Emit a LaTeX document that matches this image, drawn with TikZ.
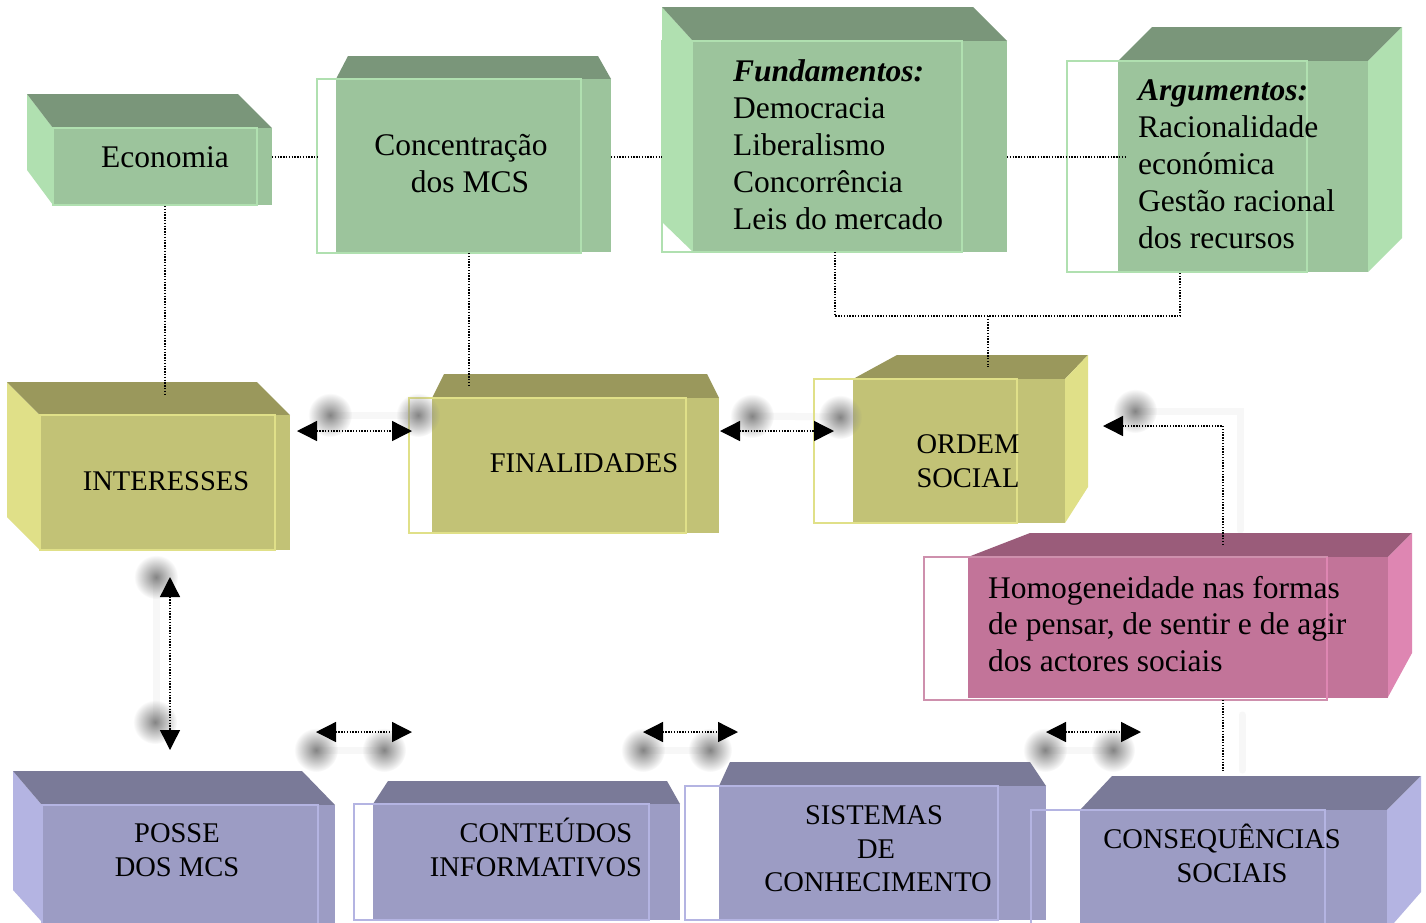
\documentclass[tikz,border=0pt]{standalone}
\usepackage{fontspec}
\setmainfont{Liberation Serif}
\usetikzlibrary{arrows.meta,fadings}
\definecolor{gF}{HTML}{9CC49C}
\definecolor{gT}{HTML}{7A967A}
\definecolor{gS}{HTML}{B0E0B0}
\definecolor{oF}{HTML}{C2C276}
\definecolor{oT}{HTML}{9A985C}
\definecolor{oS}{HTML}{E0E088}
\definecolor{pF}{HTML}{C27499}
\definecolor{pT}{HTML}{9A5C7A}
\definecolor{pS}{HTML}{DE86B2}
\definecolor{vF}{HTML}{9C9CC4}
\definecolor{vT}{HTML}{7A7A98}
\definecolor{vS}{HTML}{B4B4E2}
\tikzfading[name=dotfade, inner color=transparent!0, outer color=transparent!100]
\tikzset{
  big/.style={font=\fontsize{31.5}{37}\selectfont, inner sep=0pt},
  caps/.style={font=\fontsize{28.5}{34}\selectfont, inner sep=0pt},
  edge/.style={draw=#1, line width=1.6pt},
  dotline/.style={draw=black, line width=1.4pt, dash pattern=on 1.4pt off 1.4pt},
  biarrow/.style={dotline, {Triangle[length=20pt,width=20pt]}-{Triangle[length=20pt,width=20pt]}},
  onearrow/.style={dotline, -{Triangle[length=20pt,width=20pt]}},
  blur/.style={fill=black!48, path fading=dotfade},
  faint/.style={draw=black!3, line width=7pt, line cap=round}
}
\begin{document}
\begin{tikzpicture}[x=1pt,y=-1pt]
\useasboundingbox[fill=white] (0,0) rectangle (1426,922);

% faint shadow bands
\draw[faint] (330,415) -- (418,415);
\draw[faint] (752,416) -- (840,417);
\draw[faint] (1135,411) -- (1240,411) -- (1240,530);
\draw[faint] (1242,715) -- (1242,770);
\draw[faint] (156,577) -- (156,722);
\draw[faint] (316,750) -- (384,750);
\draw[faint] (643,750) -- (710,750);
\draw[faint] (1045,750) -- (1113,750);

% ===== green row =====
% Economia
\fill[gS] (27,94) -- (53,128) -- (53,205) -- (27,170) -- cycle;
\fill[gT] (27,94) -- (238,94) -- (272,128) -- (53,128) -- cycle;
\fill[gF] (53,128) rectangle (272,205);
\draw[edge=gS] (53,128) rectangle (257,205);
\node[big, anchor=base] (eco) at (165,167) {Economia};

% Concentracao
\fill[gT] (336,79) -- (348,56) -- (598,56) -- (611,79) -- cycle;
\fill[gF] (336,79) rectangle (611,252);
\draw[edge=gS] (317,79) rectangle (581,253);
\node[big, anchor=base] (conc1) at (461,155) {Concentração};
\node[big, anchor=base] (conc2) at (470,192) {dos MCS};

% Fundamentos
\fill[gS] (662,7) -- (693,41) -- (693,252) -- (662,222) -- cycle;
\fill[gT] (662,7) -- (973,7) -- (1007,41) -- (693,41) -- cycle;
\fill[gF] (693,41) rectangle (1007,252);
\draw[edge=gS] (662,41) rectangle (962,252);
\node[big, anchor=base west] (fund1) at (733,81) {\textbf{\textit{Fundamentos:}}};
\node[big, anchor=base west] (fund2) at (733,118) {Democracia};
\node[big, anchor=base west] (fund3) at (733,155) {Liberalismo};
\node[big, anchor=base west] (fund4) at (733,192) {Concorrência};
\node[big, anchor=base west] (fund5) at (733,229) {Leis do mercado};

% Argumentos
\fill[gT] (1118,61) -- (1152,27) -- (1402,27) -- (1368,61) -- cycle;
\fill[gS] (1368,61) -- (1402,27) -- (1402,238) -- (1368,272) -- cycle;
\fill[gF] (1118,61) rectangle (1368,272);
\draw[edge=gS] (1067,61) rectangle (1307,272);
\node[big, anchor=base west] (arg1) at (1138,100) {\textbf{\textit{Argumentos:}}};
\node[big, anchor=base west] (arg2) at (1138,137) {Racionalidade};
\node[big, anchor=base west] (arg3) at (1138,174) {económica};
\node[big, anchor=base west] (arg4) at (1138,211) {Gestão racional};
\node[big, anchor=base west] (arg5) at (1138,248) {dos recursos};

% ===== olive row =====
% Interesses
\fill[oS] (7,382) -- (40,415) -- (40,550) -- (7,517) -- cycle;
\fill[oT] (7,382) -- (257,382) -- (290,415) -- (40,415) -- cycle;
\fill[oF] (40,415) rectangle (290,550);
\draw[edge=oS] (40,415) rectangle (275,550);
\node[caps, anchor=base] (int) at (166,490) {INTERESSES};

% Finalidades
\fill[oT] (432,398) -- (444,374) -- (707,374) -- (719,398) -- cycle;
\fill[oF] (432,398) rectangle (719,533);
\draw[edge=oS] (409,398) rectangle (686,533);
\node[caps, anchor=base] (fin) at (584,472) {FINALIDADES};

% Ordem social
\fill[oT] (853,379) -- (897,355) -- (1088,355) -- (1065,379) -- cycle;
\fill[oS] (1065,379) -- (1088,355) -- (1088,487) -- (1065,523) -- cycle;
\fill[oF] (853,379) rectangle (1065,523);
\draw[edge=oS] (814,379) rectangle (1017,523);
\node[caps, anchor=base] (ord1) at (968,453) {ORDEM};
\node[caps, anchor=base] (ord2) at (968,487) {SOCIAL};

% ===== pink =====
\fill[pT] (968,557) -- (1030,533) -- (1412,533) -- (1388,557) -- cycle;
\fill[pS] (1388,557) -- (1412,533) -- (1412,653) -- (1388,697) -- cycle;
\fill[pF] (968,557) rectangle (1388,698);
\draw[edge=pF!80!white] (924,557) rectangle (1327,700);
\draw[pS, line width=1.6pt] (1327,557) -- (1327,700);
\node[big, anchor=base west] (hom1) at (988,598) {Homogeneidade nas formas};
\node[big, anchor=base west] (hom2) at (988,634) {de pensar, de sentir e de agir};
\node[big, anchor=base west] (hom3) at (988,671) {dos actores sociais};

% ===== purple row =====
% Posse
\fill[vS] (13,771) -- (42,805) -- (42,922) -- (13,890) -- cycle;
\fill[vT] (13,771) -- (302,771) -- (335,805) -- (42,805) -- cycle;
\fill[vF] (42,805) rectangle (335,924);
\draw[edge=vS] (42,805) rectangle (318,924);
\node[caps, anchor=base] (pos1) at (177,842) {POSSE};
\node[caps, anchor=base] (pos2) at (177,876) {DOS MCS};

% Conteudos
\fill[vT] (373,804) -- (388,781) -- (667,781) -- (680,804) -- cycle;
\fill[vF] (373,804) rectangle (680,920);
\draw[edge=vS] (354,804) rectangle (649,920);
\node[caps, anchor=base] (cnt1) at (546,842) {CONTEÚDOS};
\node[caps, anchor=base] (cnt2) at (536,876) {INFORMATIVOS};

% Sistemas
\fill[vT] (719,786) -- (730,762) -- (1030,762) -- (1046,786) -- cycle;
\fill[vF] (719,786) rectangle (1046,920);
\draw[edge=vS] (685,786) rectangle (998,920);
\node[caps, anchor=base] (sis1) at (874,824) {SISTEMAS};
\node[caps, anchor=base] (sis2) at (876,858) {DE};
\node[caps, anchor=base] (sis3) at (878,891) {CONHECIMENTO};

% Consequencias
\fill[vT] (1080,810) -- (1112,776) -- (1421,776) -- (1387,810) -- cycle;
\fill[vS] (1387,810) -- (1421,776) -- (1421,892) -- (1393,924) -- (1387,924) -- cycle;
\fill[vF] (1080,810) rectangle (1387,924);
\draw[edge=vS] (1031,810) rectangle (1325,926);
\node[caps, anchor=base] (cs1) at (1222,848) {CONSEQUÊNCIAS};
\node[caps, anchor=base] (cs2) at (1232,882) {SOCIAIS};

% ===== connector end points =====
\coordinate (ecoR) at (272,157);
\coordinate (concL) at (317,157);
\coordinate (concR) at (611,157);
\coordinate (fundL) at (662,157);
\coordinate (fundR) at (1007,157);
\coordinate (argIn) at (1127,157);
\coordinate (ecoB) at (165,206);
\coordinate (intT) at (165,395);
\coordinate (concB) at (469,253);
\coordinate (finT) at (469,385);
\coordinate (fundB) at (835,252);
\coordinate (jA) at (835,316);
\coordinate (jB) at (1180,316);
\coordinate (jC) at (988,316);
\coordinate (argB) at (1180,272);
\coordinate (ordT) at (988,367);
\coordinate (intR) at (297,431);
\coordinate (finL) at (412,431);
\coordinate (finR) at (720,431);
\coordinate (ordL) at (834,431);
\coordinate (ordR) at (1103,426);
\coordinate (homT) at (1223,545);
\coordinate (homB) at (1223,700);
\coordinate (csT) at (1223,771);
\coordinate (intB) at (170,577);
\coordinate (posT) at (170,750);
\coordinate (posR) at (316,732);
\coordinate (cntL) at (412,732);
\coordinate (cntR) at (643,732);
\coordinate (sisL) at (738,732);
\coordinate (sisR) at (1046,732);
\coordinate (csL) at (1141,732);

% dotted links
\draw[dotline] (ecoR) -- (concL);
\draw[dotline] (concR) -- (fundL);
\draw[dotline] (fundR) -- (argIn);
\draw[dotline] (ecoB) -- (intT);
\draw[dotline] (concB) -- (finT);
\draw[dotline] (fundB) -- (jA) -- (jB) -- (argB);
\draw[dotline] (jC) -- (ordT);
\draw[dotline] (homB) -- (csT);

% blurred dots
\foreach \p in {(330,415),(418,415),(752,416),(840,417),(1135,411),(156,577),(155,722),(316,750),(384,750),(643,750),(710,750),(1045,750),(1113,750)}
  \fill[blur] \p circle[radius=22pt];

% arrows
\draw[biarrow] (intR) -- (finL);
\draw[biarrow] (finR) -- (ordL);
\draw[onearrow] (homT) |- (ordR);
\draw[biarrow] (intB) -- (posT);
\draw[biarrow] (posR) -- (cntL);
\draw[biarrow] (cntR) -- (sisL);
\draw[biarrow] (sisR) -- (csL);
\end{tikzpicture}
\end{document}
